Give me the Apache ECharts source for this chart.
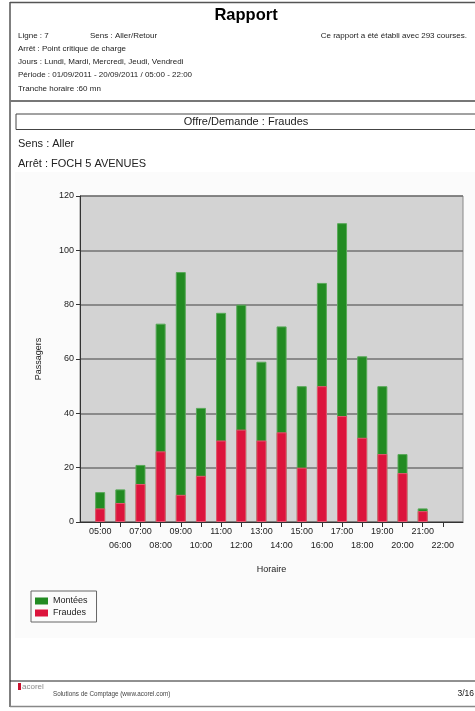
<!DOCTYPE html>
<html>
<head>
<meta charset="utf-8">
<script src="https://cdn.jsdelivr.net/npm/echarts@6/dist/echarts.min.js"></script>
<style>
html,body{margin:0;padding:0;background:#fff;}
#c{width:475px;height:711px;}
</style>
</head>
<body>
<div id="c"></div>
<script>
// ---- data ----
const hours = ['05:00','06:00','07:00','08:00','09:00','10:00','11:00','12:00','13:00','14:00','15:00','16:00','17:00','18:00','19:00','20:00','21:00','22:00'];
const montees = [11,12,21,73,92,42,77,80,59,72,50,88,110,61,50,25,5];
const fraudes = [5,7,14,26,10,17,30,34,30,33,20,50,39,31,25,18,4];
const seriesNames = ['Montées','Fraudes'];
const yMin = 0, yMax = 120, yStep = 20;

const FF = '"Liberation Sans", Arial, sans-serif';
const cats = [''].concat(hours, ['']);

function txt(text, x, y, size, opts) {
  opts = opts || {};
  return {
    type: 'text', z: 10,
    style: {
      text: text, x: x, y: y,
      fontSize: size, fontFamily: FF, fontWeight: opts.bold ? 'bold' : 'normal',
      fill: opts.fill || '#222',
      align: opts.align || 'left', textAlign: opts.align || 'left',
      verticalAlign: 'middle', textVerticalAlign: 'middle'
    }
  };
}
function line(x1, y1, x2, y2, color, w) {
  return { type: 'line', z: 10, shape: {x1:x1, y1:y1, x2:x2, y2:y2}, style: {stroke: color, lineWidth: w} };
}

const chart = echarts.init(document.getElementById('c'), null, {renderer: 'canvas'});
chart.setOption({
  animation: false,
  textStyle: {fontFamily: FF},
  graphic: [
    {type: 'rect', z: -10, shape: {x: 15, y: 172, width: 460, height: 466}, style: {fill: '#fbfbfb'}},
    line(10, 2.5, 475, 2.5, '#555', 1.5),
    line(10, 2, 10, 707, '#555', 1.5),
    line(10, 101, 475, 101, '#777', 2),
    line(10, 681, 475, 681, '#222', 1),
    line(10, 706.5, 475, 706.5, '#888', 1.5),
    txt('Rapport', 246, 15, 16.5, {bold: true, align: 'center', fill: '#000'}),
    txt('Ligne : 7', 18, 36, 8),
    txt('Sens : Aller/Retour', 90, 36, 8),
    txt('Ce rapport a été établi avec 293 courses.', 467, 36, 8, {align: 'right'}),
    txt('Arrêt : Point critique de charge', 18, 49, 8),
    txt('Jours : Lundi, Mardi, Mercredi, Jeudi, Vendredi', 18, 62, 8),
    txt('Période : 01/09/2011 - 20/09/2011 / 05:00 - 22:00', 18, 75, 8),
    txt('Tranche horaire :60 mn', 18, 89, 8),
    {type: 'rect', z: 10, shape: {x: 16, y: 114, width: 470, height: 15.5}, style: {fill: 'none', stroke: '#444', lineWidth: 1}},
    txt('Offre/Demande : Fraudes', 246, 122, 11, {align: 'center'}),
    txt('Sens : Aller', 18, 144, 11),
    txt('Arrêt : FOCH 5 AVENUES', 18, 164, 11),
    {type: 'rect', z: 10, shape: {x: 18, y: 683, width: 3, height: 7}, style: {fill: '#c8102e'}},
    txt('acorel', 22, 687, 8, {fill: '#8a8a8a'}),
    txt('Solutions de Comptage (www.acorel.com)', 53, 694, 6.3, {fill: '#444'}),
    txt('3/16', 474, 694, 8.5, {align: 'right', fill: '#111'})
  ],
  legend: {
    data: seriesNames,
    orient: 'vertical',
    left: 31, top: 591,
    icon: 'rect',
    itemWidth: 13, itemHeight: 7, itemGap: 2,
    itemStyle: {borderWidth: 0},
    borderColor: '#666', borderWidth: 1,
    padding: [5, 9, 4, 4],
    textStyle: {fontSize: 9, color: '#222', lineHeight: 10}
  },
  grid: {
    left: 80, right: 12, top: 196, bottom: 189,
    show: true, backgroundColor: '#d3d3d3', borderColor: '#888', borderWidth: 1
  },
  xAxis: {
    type: 'category',
    data: cats,
    boundaryGap: false,
    name: 'Horaire', nameLocation: 'middle', nameGap: 43,
    nameTextStyle: {fontSize: 9, color: '#222'},
    axisLine: {lineStyle: {color: '#333', width: 1}},
    axisTick: {length: 5, interval: function (i, v) { return v !== ''; }, lineStyle: {color: '#333'}},
    axisLabel: {
      interval: 0, margin: 3, fontSize: 9, color: '#222', lineHeight: 14,
      formatter: function (v, i) { return i % 2 === 0 ? '\n' + v : v; }
    },
    splitLine: {show: false}
  },
  yAxis: {
    type: 'value', min: yMin, max: yMax, interval: yStep,
    name: 'Passagers', nameLocation: 'middle', nameGap: 37, nameRotate: 90,
    nameTextStyle: {fontSize: 9, color: '#222'},
    axisLine: {show: true, lineStyle: {color: '#333'}},
    axisTick: {show: true, length: 4, lineStyle: {color: '#333'}},
    axisLabel: {margin: 6, fontSize: 9, color: '#222'},
    splitLine: {lineStyle: {color: '#727272', width: 1.5}}
  },
  series: [
    {
      name: seriesNames[0], type: 'bar', barWidth: 10, barGap: '-100%',
      data: ['-'].concat(montees),
      itemStyle: {color: '#228b22', borderColor: '#58a858', borderWidth: 1}
    },
    {
      name: seriesNames[1], type: 'bar', barWidth: 10, barGap: '-100%',
      data: ['-'].concat(fraudes),
      itemStyle: {color: '#dc143c', borderColor: '#e5546e', borderWidth: 1}
    }
  ]
});
</script>
</body>
</html>
